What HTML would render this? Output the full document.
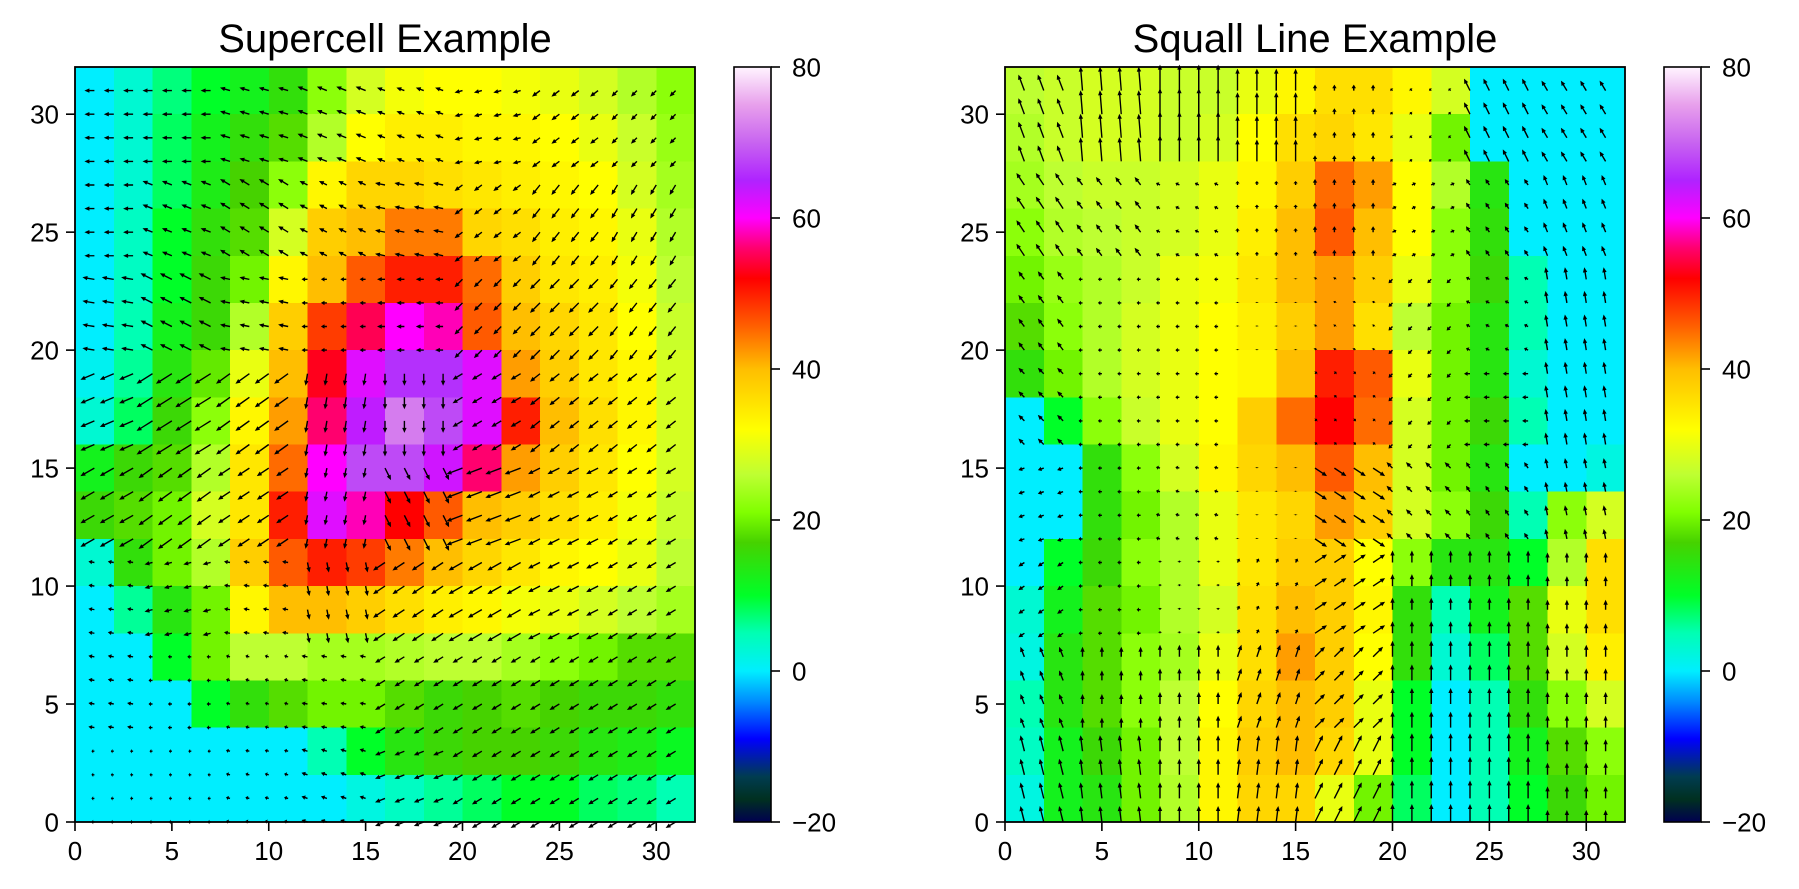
<!DOCTYPE html>
<html><head><meta charset="utf-8">
<style>
body{margin:0;background:#fff;}
svg{display:block;font-family:"Liberation Sans","DejaVu Sans",sans-serif;}
</style></head>
<body>
<svg id="fig" width="1799" height="889" viewBox="0 0 1799 889" xmlns="http://www.w3.org/2000/svg">
<defs>
<linearGradient id="cbgrad" x1="0" y1="1" x2="0" y2="0"></linearGradient>
</defs>
</svg>
<script>
// ---- data (rows from top y=32 down to y=0; each value covers 2x2 grid units) ----
const superRefl = [
[0,3,7,10,12,15,22,28,31,32,32,31,30,28,25,22],
[0,3,8,12,15,18,25,32,34,34,33,33,32,30,27,23],
[0,3,8,13,17,22,33,37,37,36,35,34,33,32,28,24],
[0,4,10,15,18,28,38,40,44,44,37,36,34,33,30,25],
[0,4,10,16,20,33,40,46,50,50,45,38,35,34,31,26],
[0,5,12,16,25,38,48,55,60,58,46,40,37,35,32,27],
[1,6,14,19,30,40,53,62,66,66,62,42,38,35,33,28],
[3,8,16,22,33,42,56,64,72,68,62,50,40,36,33,28],
[12,16,18,25,35,45,60,68,68,63,56,42,38,35,32,28],
[16,18,20,28,35,50,62,58,52,46,40,38,36,34,31,27],
[3,15,20,25,38,46,50,48,44,40,37,35,33,32,30,26],
[0,6,14,20,33,40,40,38,36,34,33,31,30,28,26,24],
[0,0,10,20,26,26,24,24,25,26,26,24,22,20,18,18],
[0,0,0,10,15,18,20,20,18,16,17,18,17,16,16,15],
[0,0,0,0,0,0,5,10,14,16,17,17,16,14,13,11],
[0,0,0,0,0,0,0,2,4,6,8,10,10,8,7,5]
];
const squallRefl = [
[26,27,28,28,27,27,30,33,36,36,33,28,0,0,0,0],
[25,27,28,28,27,28,32,36,37,35,30,20,0,0,0,0],
[24,26,27,27,28,30,33,38,45,42,32,25,14,0,0,0],
[22,25,26,27,28,30,34,40,46,40,32,22,15,0,0,0],
[20,23,25,27,30,31,35,40,42,38,30,22,16,5,0,0],
[18,22,25,28,30,32,34,38,42,36,26,20,14,5,0,0],
[15,20,25,28,30,32,33,40,50,46,30,20,14,3,0,0],
[0,10,22,27,30,32,38,45,52,45,28,20,16,5,0,0],
[0,0,15,22,28,33,37,40,46,40,28,20,14,0,0,2],
[0,0,15,20,25,30,35,37,42,38,28,22,16,5,22,28],
[0,10,16,22,25,30,35,38,38,32,22,14,14,10,25,36],
[3,12,18,20,25,28,36,40,38,33,15,5,12,18,30,36],
[2,14,18,22,24,30,36,42,38,32,15,3,8,18,28,34],
[5,14,18,22,26,32,37,40,38,30,10,0,5,15,22,28],
[4,12,16,20,26,33,38,40,37,30,10,0,5,12,18,22],
[2,12,14,20,25,33,37,37,30,20,8,0,5,10,16,20]
];
// wind (u) and (v), coarse 8x8 blocks (each 4x4 grid units), rows top to bottom
const superU = [
[-.5,-.5,-.5,-.5,-.4,-.4,-.4,-.3],
[-.5,-.5,-.5,-.4,-.5,-.4,-.4,-.3],
[-.6,-.6,-.5,-.3,-.4,-.4,-.5,-.4],
[-.7,-.8,-.7,-.1,0,-.5,-.5,-.5],
[-.7,-.7,-.6,-.1,.3,-.8,-.6,-.5],
[-.3,-.4,-.3,.1,-.6,-.7,-.6,-.5],
[-.3,-.2,-.2,-.3,-.5,-.5,-.5,-.5],
[-.15,-.15,-.2,-.3,-.5,-.5,-.5,-.5]
];
const superV = [
[0,0,.15,.2,.15,-.1,-.3,-.3],
[0,.2,.3,.2,.1,-.3,-.5,-.5],
[.1,.3,.1,0,0,-.4,-.5,-.5],
[-.3,-.5,-.5,-.6,-.6,-.3,-.4,-.4],
[-.4,-.5,-.4,-.5,-.6,-.3,-.3,-.3],
[.05,-.1,.05,-.5,-.4,-.4,-.3,-.3],
[.05,0,.05,.05,-.3,-.3,-.3,-.3],
[0,0,.05,.1,-.2,-.3,-.3,-.3]
];
const squallU = [
[-.3,-.1,0,0,0,-.1,-.3,-.3],
[-.4,-.3,-.2,0,0,.2,-.2,-.2],
[-.3,-.2,-.2,0,.05,-.2,-.2,-.1],
[-.3,-.2,-.2,0,.1,-.2,-.3,-.1],
[-.3,-.2,-.2,0,.6,-.3,-.2,-.1],
[-.3,-.2,0,.1,.6,0,0,0],
[-.2,0,0,.2,.5,0,0,0],
[-.2,-.1,0,.1,.4,0,0,0]
];
const squallV = [
[.8,1.2,1.3,1.1,.3,.1,.6,.5],
[.6,.4,.1,.2,.3,.1,.3,.5],
[.4,0,0,.05,.1,-.2,.1,.6],
[.3,0,0,0,.1,-.2,0,.6],
[-.1,0,.05,.05,-.4,.3,.3,.5],
[-.2,0,.1,.2,.4,.6,.6,.5],
[.5,.5,.6,.6,.5,.8,.8,.6],
[.8,.8,.8,.8,.8,.9,.9,.6]
];
const axisTicks = [0,5,10,15,20,25,30];
const cbTicks = [-20,0,20,40,60,80];
const titles = ["Supercell Example","Squall Line Example"];

// ---- colormap ----
const cstops = [[-20,[0,0,80]],[-17,[0,48,32]],[-14,[0,60,80]],[-9,[0,0,255]],[-4,[0,140,255]],[0,[0,238,255]],[5,[0,255,180]],[10,[0,255,40]],[17,[70,210,0]],[21,[128,255,0]],[26,[190,255,50]],[32,[255,255,0]],[40,[255,190,0]],[46,[255,90,0]],[52,[255,0,0]],[56,[255,0,110]],[60,[255,0,255]],[65,[175,35,255]],[70,[200,100,240]],[75,[232,160,236]],[80,[255,244,255]]];
function cmap(v){
  if(v<=cstops[0][0]) return 'rgb('+cstops[0][1]+')';
  for(let i=1;i<cstops.length;i++){
    if(v<=cstops[i][0]){
      const a=cstops[i-1],b=cstops[i],t=(v-a[0])/(b[0]-a[0]);
      const c=a[1].map((x,k)=>Math.round(x+(b[1][k]-x)*t));
      return 'rgb('+c.join(',')+')';
    }
  }
  return 'rgb('+cstops[cstops.length-1][1]+')';
}

const NS='http://www.w3.org/2000/svg';
const svg=document.getElementById('fig');
function mk(tag,attrs,parent){const e=document.createElementNS(NS,tag);for(const k in attrs)e.setAttribute(k,attrs[k]);(parent||svg).appendChild(e);return e;}

const grad=document.getElementById('cbgrad');
cstops.forEach(s=>{mk('stop',{offset:((s[0]+20)/100).toFixed(3),'stop-color':cmap(s[0])},grad);});

const panels=[
 {x0:75,x1:695,y0:67,y1:822,cb0:734,cb1:771,refl:superRefl,U:superU,V:superV,name:'supercell'},
 {x0:1005,x1:1625,y0:67,y1:822,cb0:1664,cb1:1701,refl:squallRefl,U:squallU,V:squallV,name:'squall-line'}
];

panels.forEach((p,pi)=>{
  const g=mk('g',{});
  
  
  const sx=v=>p.x0+(v/32)*(p.x1-p.x0);
  const sy=v=>p.y1-(v/32)*(p.y1-p.y0);
  const hm=mk('g',{'shape-rendering':'crispEdges'},g);
  
  
  const n=p.refl.length, m=p.refl[0].length, bw=32/m, bh=32/n;
  p.refl.forEach((row,r)=>{
    row.forEach((val,c)=>{
      const xa=sx(c*bw), xb=sx((c+1)*bw), ya=sy(32-r*bh), yb=sy(32-(r+1)*bh);
      const rc=mk('rect',{x:xa.toFixed(2),y:ya.toFixed(2),width:(xb-xa+0.6).toFixed(2),height:(yb-ya+0.6).toFixed(2),fill:cmap(val)},hm);
      
      
    });
  });
  const qv=mk('g',{fill:'#000',stroke:'none'},g);
  
  
  const scale=20;
  for(let yi=0;yi<32;yi++){
    for(let xi=1;xi<32;xi++){
      const br=Math.min(7,Math.floor((31-yi)/4)), bc=Math.min(7,Math.floor(xi/4));
      const u=p.U[br][bc], v=p.V[br][bc];
      const dx=u*scale, dy=-v*scale, L=Math.hypot(dx,dy);
      if(L<0.5) continue;
      const tx=sx(xi), ty=sy(yi);
      const ux=dx/L, uy=dy/L, nx=-uy, ny=ux;
      const hl=Math.min(5,L*0.6), hw=2.2, sw=0.7;
      const hx=tx+dx-ux*hl, hy=ty+dy-uy*hl;
      const pts=[[tx+nx*sw,ty+ny*sw],[hx+nx*sw,hy+ny*sw],[hx+nx*hw,hy+ny*hw],[tx+dx,ty+dy],[hx-nx*hw,hy-ny*hw],[hx-nx*sw,hy-ny*sw],[tx-nx*sw,ty-ny*sw]];
      const a=mk('polygon',{points:pts.map(q=>q[0].toFixed(1)+','+q[1].toFixed(1)).join(' ')},qv);
      
      
    }
  }
  const fr=mk('rect',{x:p.x0,y:p.y0,width:p.x1-p.x0,height:p.y1-p.y0,fill:'none',stroke:'#000','stroke-width':1.8},g);
  
  
  axisTicks.forEach(t=>{
    const X=sx(t);
    mk('line',{x1:X,y1:p.y1,x2:X,y2:p.y1+9,stroke:'#000','stroke-width':1.6},g);
    const tl=mk('text',{x:X,y:p.y1+38,'font-size':26,'text-anchor':'middle',fill:'#000'},g);
    tl.textContent=t;
    
    
    const Y=sy(t);
    mk('line',{x1:p.x0-9,y1:Y,x2:p.x0,y2:Y,stroke:'#000','stroke-width':1.6},g);
    const yl=mk('text',{x:p.x0-16,y:Y+9.5,'font-size':26,'text-anchor':'end',fill:'#000'},g);
    yl.textContent=t;
    
    
  });
  const tt=mk('text',{x:(p.x0+p.x1)/2,y:52,'font-size':40,'text-anchor':'middle',fill:'#000'},g);
  tt.textContent=titles[pi];
  
  
  const cb=mk('g',{},g);
  
  
  mk('rect',{x:p.cb0,y:p.y0,width:p.cb1-p.cb0,height:p.y1-p.y0,fill:'url(#cbgrad)',stroke:'#000','stroke-width':1.6},cb);
  cbTicks.forEach(t=>{
    const Y=p.y1-((t+20)/100)*(p.y1-p.y0);
    mk('line',{x1:p.cb1,y1:Y,x2:p.cb1+9,y2:Y,stroke:'#000','stroke-width':1.6},cb);
    const cl=mk('text',{x:p.cb1+21,y:Y+9.5,'font-size':26,fill:'#000'},cb);
    cl.textContent=(t<0?'\u2212'+(-t):t);
    
    
  });
});
</script>
</body></html>
